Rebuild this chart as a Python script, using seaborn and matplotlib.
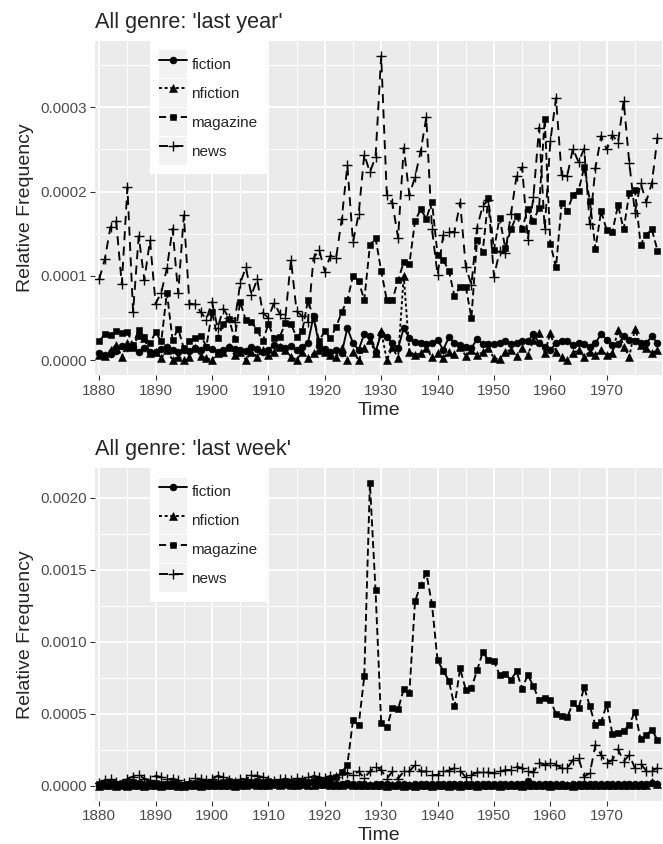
import numpy as np
import pandas as pd
import matplotlib
matplotlib.use("Agg")
import matplotlib.pyplot as plt
import seaborn as sns
from matplotlib.legend_handler import HandlerLine2D
from matplotlib.patches import Rectangle
from matplotlib.ticker import FuncFormatter, MultipleLocator

years = list(range(1880, 1980))
genres = ["fiction", "nfiction", "magazine", "news"]

# ---- 'last year' (values in units of 1e-4) ----
ly_fiction = [0.08, 0.06, 0.07, 0.11, 0.17, 0.14, 0.15, 0.10, 0.14, 0.09,
              0.10, 0.13, 0.16, 0.12, 0.10, 0.12, 0.11, 0.14, 0.12, 0.16,
              0.13, 0.10, 0.12, 0.15, 0.13, 0.12, 0.11, 0.16, 0.13, 0.10,
              0.12, 0.18, 0.16, 0.14, 0.17, 0.12, 0.15, 0.20, 0.52, 0.17,
              0.13, 0.09, 0.12, 0.08, 0.38, 0.20, 0.12, 0.31, 0.28, 0.10,
              0.31, 0.27, 0.20, 0.14, 0.38, 0.26, 0.21, 0.20, 0.19, 0.20,
              0.24, 0.12, 0.27, 0.20, 0.18, 0.15, 0.14, 0.25, 0.19, 0.19,
              0.19, 0.20, 0.23, 0.19, 0.20, 0.22, 0.22, 0.31, 0.20, 0.16,
              0.12, 0.20, 0.23, 0.23, 0.18, 0.20, 0.19, 0.16, 0.20, 0.31,
              0.24, 0.18, 0.19, 0.28, 0.24, 0.22, 0.20, 0.20, 0.28, 0.20]
ly_nfiction = [0.06, 0.05, 0.12, 0.18, 0.04, 0.20, 0.16, 0.30, 0.26, 0.08,
               0.10, 0.02, 0.12, 0.00, 0.04, 0.00, 0.03, 0.14, 0.05, 0.02,
               0.00, 0.08, 0.10, 0.15, 0.06, 0.10, 0.00, 0.10, 0.04, 0.12,
               0.06, 0.10, 0.15, 0.12, 0.04, 0.00, 0.10, 0.02, 0.08, 0.12,
               0.10, 0.06, 0.03, 0.14, 0.00, 0.10, 0.00, 0.14, 0.24, 0.08,
               0.34, 0.00, 0.15, 0.02, 1.00, 0.10, 0.06, 0.08, 0.14, 0.03,
               0.08, 0.02, 0.10, 0.07, 0.15, 0.05, 0.12, 0.06, 0.09, 0.14,
               0.02, 0.01, 0.10, 0.12, 0.05, 0.14, 0.06, 0.24, 0.32, 0.08,
               0.32, 0.10, 0.04, 0.00, 0.08, 0.12, 0.04, 0.10, 0.06, 0.12,
               0.06, 0.08, 0.36, 0.16, 0.04, 0.37, 0.18, 0.14, 0.08, 0.12]
ly_magazine = [0.22, 0.31, 0.30, 0.35, 0.32, 0.33, 0.18, 0.36, 0.27, 0.20,
               0.33, 0.22, 0.80, 0.24, 0.37, 0.14, 0.22, 0.26, 0.29, 0.16,
               0.57, 0.26, 0.43, 0.49, 0.25, 0.69, 0.47, 0.45, 0.36, 0.22,
               0.43, 0.26, 0.27, 0.44, 0.43, 0.27, 0.34, 0.71, 0.50, 0.23,
               0.34, 0.26, 0.39, 0.57, 0.71, 1.00, 0.94, 0.71, 1.36, 1.45,
               1.06, 0.71, 0.71, 0.95, 1.16, 1.14, 1.65, 1.79, 1.68, 1.88,
               1.25, 1.19, 1.06, 0.76, 0.87, 0.87, 0.50, 1.43, 1.28, 1.92,
               1.31, 1.69, 1.33, 1.55, 1.71, 1.56, 1.79, 1.65, 1.81, 2.86,
               1.38, 1.10, 1.86, 1.77, 1.96, 2.01, 2.29, 1.89, 1.32, 1.77,
               1.54, 1.52, 1.84, 1.55, 1.98, 2.02, 1.37, 1.49, 1.55, 1.30]
ly_news = [0.96, 1.20, 1.58, 1.65, 0.90, 2.05, 0.57, 1.47, 0.95, 1.42,
           0.67, 0.80, 1.09, 1.56, 0.79, 1.72, 0.67, 0.66, 0.57, 0.48,
           0.69, 0.38, 0.61, 0.50, 0.45, 0.91, 1.10, 0.77, 0.96, 0.56,
           0.50, 0.68, 0.55, 0.50, 1.19, 0.58, 0.52, 0.45, 1.21, 1.31,
           1.05, 1.24, 1.21, 1.67, 2.31, 1.40, 1.73, 2.44, 2.23, 2.41,
           3.61, 1.96, 1.86, 1.45, 2.52, 1.96, 2.17, 2.48, 2.88, 1.56,
           1.01, 1.48, 1.52, 1.52, 1.87, 1.11, 0.89, 1.57, 1.83, 1.90,
           0.99, 1.29, 1.27, 1.73, 2.18, 2.29, 1.43, 1.94, 2.76, 1.55,
           2.60, 3.11, 2.20, 2.19, 2.51, 2.35, 2.51, 1.61, 2.28, 2.66,
           2.50, 2.67, 2.58, 3.08, 2.34, 1.75, 2.10, 1.88, 2.10, 2.64]

# ---- 'last week' (values in units of 1e-4) ----
lw_fiction = [0.05, 0.08, 0.06, 0.10, 0.07, 0.05, 0.08, 0.06, 0.09, 0.07,
              0.06, 0.08, 0.10, 0.07, 0.05, 0.06, 0.08, 0.07, 0.09, 0.10,
              0.12, 0.10, 0.15, 0.12, 0.10, 0.14, 0.12, 0.18, 0.15, 0.12,
              0.15, 0.20, 0.18, 0.15, 0.20, 0.16, 0.14, 0.18, 0.25, 0.15,
              0.12, 0.15, 0.10, 0.12, 0.18, 0.15, 0.10, 0.12, 0.08, 0.10,
              0.12, 0.10, 0.08, 0.12, 0.10, 0.09, 0.12, 0.10, 0.14, 0.10,
              0.12, 0.10, 0.12, 0.11, 0.10, 0.14, 0.12, 0.10, 0.12, 0.10,
              0.12, 0.10, 0.11, 0.14, 0.12, 0.15, 0.32, 0.12, 0.10, 0.12,
              0.10, 0.12, 0.10, 0.09, 0.11, 0.12, 0.10, 0.13, 0.15, 0.12,
              0.14, 0.12, 0.15, 0.12, 0.13, 0.14, 0.12, 0.15, 0.20, 0.12]
lw_nfiction = [0.02, 0.05, 0.03, 0.00, 0.04, 0.02, 0.06, 0.03, 0.00, 0.05,
               0.03, 0.00, 0.04, 0.06, 0.02, 0.00, 0.05, 0.03, 0.02, 0.04,
               0.06, 0.03, 0.08, 0.05, 0.02, 0.06, 0.04, 0.10, 0.06, 0.03,
               0.08, 0.10, 0.05, 0.12, 0.08, 0.06, 0.10, 0.04, 0.08, 0.12,
               0.10, 0.06, 0.08, 0.05, 0.10, 0.04, 0.06, 0.03, 0.05, 0.08,
               0.04, 0.00, 0.03, 0.05, 0.02, 0.04, 0.00, 0.03, 0.05, 0.02,
               0.03, 0.05, 0.02, 0.04, 0.00, 0.03, 0.05, 0.02, 0.04, 0.03,
               0.05, 0.02, 0.04, 0.03, 0.05, 0.02, 0.04, 0.06, 0.03, 0.05,
               0.02, 0.04, 0.03, 0.05, 0.02, 0.04, 0.03, 0.06, 0.04, 0.05,
               0.03, 0.05, 0.04, 0.06, 0.03, 0.05, 0.08, 0.06, 0.30, 0.10]
lw_magazine = [0.10, 0.15, 0.20, 0.12, 0.18, 0.22, 0.25, 0.20, 0.15, 0.18,
               0.20, 0.15, 0.12, 0.18, 0.10, 0.08, 0.15, 0.20, 0.18, 0.22,
               0.25, 0.20, 0.30, 0.35, 0.28, 0.22, 0.25, 0.30, 0.35, 0.28,
               0.32, 0.30, 0.28, 0.35, 0.30, 0.25, 0.32, 0.28, 0.35, 0.40,
               0.42, 0.45, 0.60, 0.93, 1.46, 4.54, 4.19, 7.59, 21.0, 13.56,
               4.35, 4.07, 5.39, 5.32, 6.71, 6.44, 12.8, 13.96, 14.77, 12.62,
               8.70, 7.99, 7.31, 5.51, 8.15, 6.67, 6.78, 8.01, 9.26, 8.75,
               8.63, 7.71, 7.75, 7.36, 7.94, 6.74, 7.71, 6.90, 5.97, 6.09,
               5.93, 5.00, 4.86, 4.77, 5.74, 5.39, 6.85, 5.51, 4.19, 4.40,
               5.67, 3.61, 3.70, 3.82, 4.24, 5.16, 3.24, 3.54, 3.89, 3.19]
lw_news = [0.20, 0.40, 0.45, 0.30, 0.15, 0.50, 0.65, 0.75, 0.50, 0.40,
           0.70, 0.60, 0.45, 0.50, 0.40, 0.20, 0.30, 0.55, 0.45, 0.40,
           0.45, 0.70, 0.60, 0.40, 0.30, 0.50, 0.45, 0.75, 0.70, 0.60,
           0.40, 0.35, 0.45, 0.50, 0.40, 0.55, 0.40, 0.65, 0.70, 0.60,
           0.55, 0.70, 0.60, 0.80, 0.90, 0.76, 1.00, 0.53, 1.00, 1.34,
           1.10, 0.50, 1.00, 0.50, 1.00, 1.00, 1.46, 1.00, 1.00, 0.76,
           0.76, 1.06, 1.06, 1.23, 1.06, 0.60, 0.76, 0.93, 0.93, 0.93,
           0.88, 1.00, 1.10, 1.10, 1.34, 1.23, 1.00, 0.93, 1.62, 1.46,
           1.57, 1.46, 1.23, 1.23, 1.80, 1.92, 0.65, 0.88, 2.85, 2.15,
           1.57, 1.80, 2.55, 1.69, 2.15, 1.23, 1.53, 1.06, 1.06, 1.23]

panels = [
    ("All genre: 'last year'", [ly_fiction, ly_nfiction, ly_magazine, ly_news],
     1e-4, 0.00005),
    ("All genre: 'last week'", [lw_fiction, lw_nfiction, lw_magazine, lw_news],
     5e-4, 0.00025),
]

sns.set_theme(style="darkgrid")
plt.rcParams["font.family"] = ["Liberation Sans", "DejaVu Sans"]

styles = {
    "fiction":  dict(marker="o", linestyle="-", markersize=5.0),
    "nfiction": dict(marker="^", linestyle=(0, (1.6, 1.4)), markersize=5.6),
    "magazine": dict(marker="s", linestyle=(0, (3.8, 2.0)), markersize=4.9),
    "news":     dict(marker="+", linestyle=(0, (4.8, 3.4)), markersize=7.2),
}


class KeyHandler(HandlerLine2D):
    def create_artists(self, legend, orig_handle, xdescent, ydescent,
                       width, height, fontsize, trans):
        arts = super().create_artists(legend, orig_handle, xdescent, ydescent,
                                      width, height, fontsize, trans)
        bg = Rectangle((-xdescent, -ydescent), width, height,
                       facecolor="#F2F2F2", edgecolor="none", transform=trans)
        return [bg] + list(arts)


fig = plt.figure(figsize=(6.63, 8.44), dpi=100)
fig.patch.set_facecolor("white")
W, H = 663.0, 844.0
boxes = [(95, 40.8, 662, 375.2), (95, 468.1, 662, 801.0)]

for (title, series, major, minor), (x0, y0, x1, y1) in zip(panels, boxes):
    ax = fig.add_axes([x0 / W, 1 - y1 / H, (x1 - x0) / W, (y1 - y0) / H])
    ax.set_facecolor("#EBEBEB")
    rows = []
    for g, vals in zip(genres, series):
        for yr, v in zip(years, vals):
            rows.append((yr, v * 1e-4, g))
    df = pd.DataFrame(rows, columns=["Time", "freq", "genre"])
    for g in genres:
        sub = df[df["genre"] == g]
        st = styles[g]
        sns.lineplot(data=sub, x="Time", y="freq", ax=ax, color="black",
                     linewidth=1.35, marker=st["marker"], linestyle=st["linestyle"],
                     markersize=st["markersize"], markeredgecolor="black",
                     markeredgewidth=1.0 if g == "news" else 0.4,
                     label=g, zorder=3)
    lo, hi = df["freq"].min(), df["freq"].max()
    rng = hi - lo
    ax.set_ylim(lo - 0.05 * rng, hi + 0.05 * rng)
    ax.set_xlim(1879.25, 1979.8)
    ax.xaxis.set_major_locator(MultipleLocator(10))
    ax.xaxis.set_minor_locator(MultipleLocator(5))
    ax.yaxis.set_major_locator(MultipleLocator(major))
    ax.yaxis.set_minor_locator(MultipleLocator(minor))
    ax.yaxis.set_major_formatter(FuncFormatter(lambda v, p: f"{v:.4f}"))
    ax.grid(which="major", color="white", linewidth=1.35)
    ax.grid(which="minor", color="white", linewidth=0.65)
    ax.set_axisbelow(True)
    for s in ax.spines.values():
        s.set_visible(False)
    ax.tick_params(which="major", length=3.5, width=0.8, color="#333333",
                   labelsize=11, labelcolor="#4D4D4D", pad=2.5,
                   bottom=True, left=True)
    ax.tick_params(which="minor", length=0, bottom=False, left=False)
    ax.set_xlabel("Time", fontsize=14, labelpad=3)
    ax.set_ylabel("Relative Frequency", fontsize=14, labelpad=4)
    ax.set_title(title, loc="left", fontsize=15.6, pad=9.5)
    ax.title.set_position((-0.002, 1.0))

    handles, labels = ax.get_legend_handles_labels()
    leg = ax.legend(handles, labels, loc="upper left",
                    bbox_to_anchor=(55 / 567, 1.0), borderaxespad=0,
                    fontsize=11, frameon=True, fancybox=False, framealpha=1,
                    facecolor="white", edgecolor="white", numpoints=1,
                    handlelength=1.83, handleheight=2.44, handletextpad=0.26,
                    labelspacing=0.06, borderpad=0.62,
                    handler_map={h: KeyHandler() for h in handles})
    leg.get_frame().set_linewidth(0)
    leg.set_zorder(10)

fig.savefig("out.png", dpi=100, facecolor="white")
